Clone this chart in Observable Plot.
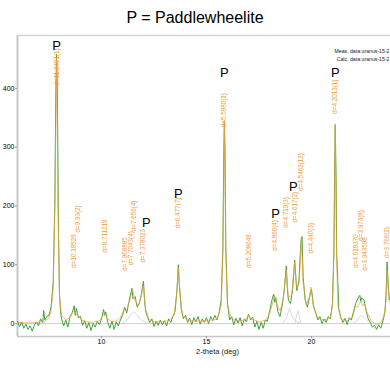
<!DOCTYPE html>
<html>
<head>
<meta charset="utf-8">
<script src="https://cdn.jsdelivr.net/npm/d3@7"></script>
<script src="https://cdn.jsdelivr.net/npm/@observablehq/plot@0.6"></script>
<style>
  html, body { margin: 0; padding: 0; background: #fff; }
  #title { height: 34px; line-height: 36px; text-align: center; font-family: "Liberation Sans", Arial, sans-serif; font-size: 16px; color: #000; }
  #chart svg { display: block; }
</style>
</head>
<body>
<div id="title">P = Paddlewheelite</div>
<div id="chart"></div>
<script>
// Measured profile [2θ, counts]
const measured = [
  [6.0,4],[6.1,-5],[6.2,3],[6.3,-8],[6.4,-1],[6.5,-10],[6.6,-4],[6.7,-13],[6.8,-3],[6.9,3],
  [7.0,-4],[7.1,8],[7.2,2],[7.25,22],[7.3,6],[7.4,12],[7.5,14],[7.6,28],[7.7,70],[7.78,210],
  [7.82,380],[7.86,458],[7.9,390],[7.95,160],[8.0,50],[8.05,20],[8.1,8],[8.2,-4],[8.3,6],[8.4,-6],
  [8.5,12],[8.6,18],[8.7,30],[8.75,14],[8.8,26],[8.9,10],[9.0,12],[9.1,-3],[9.2,5],[9.3,-8],
  [9.4,2],[9.5,-12],[9.6,0],[9.7,-6],[9.8,4],[9.9,-2],[10.0,8],[10.1,24],[10.15,14],[10.2,20],
  [10.3,2],[10.4,-8],[10.5,4],[10.6,-10],[10.7,3],[10.8,-4],[10.9,6],[11.0,14],[11.1,28],[11.2,18],
  [11.3,36],[11.4,52],[11.45,60],[11.5,42],[11.6,46],[11.7,28],[11.8,34],[11.9,50],[11.95,62],[12.0,72],
  [12.05,40],[12.1,22],[12.2,10],[12.3,2],[12.4,8],[12.5,-5],[12.6,4],[12.7,-3],[12.8,6],[12.9,-2],
  [13.0,5],[13.1,-4],[13.2,8],[13.3,2],[13.4,12],[13.5,20],[13.6,60],[13.66,100],[13.7,70],[13.8,24],
  [13.9,8],[14.0,14],[14.1,2],[14.2,9],[14.3,-2],[14.4,10],[14.5,3],[14.6,12],[14.7,-1],[14.8,8],
  [14.9,2],[15.0,10],[15.1,0],[15.2,12],[15.3,5],[15.4,14],[15.5,6],[15.6,18],[15.7,40],[15.78,130],
  [15.82,280],[15.85,345],[15.88,300],[15.92,130],[16.0,35],[16.05,20],[16.1,6],[16.2,12],[16.3,-2],[16.4,9],
  [16.5,1],[16.6,10],[16.7,-4],[16.8,8],[16.9,3],[17.0,16],[17.1,6],[17.2,11],[17.3,-6],[17.4,4],
  [17.5,-10],[17.6,2],[17.7,-8],[17.8,6],[17.9,4],[18.0,20],[18.1,38],[18.2,50],[18.25,36],[18.3,44],
  [18.4,20],[18.5,12],[18.6,30],[18.7,55],[18.8,98],[18.85,60],[18.9,40],[19.0,34],[19.1,58],[19.2,108],
  [19.25,80],[19.3,56],[19.4,72],[19.5,140],[19.55,148],[19.6,80],[19.7,40],[19.8,28],[19.9,44],[19.95,52],
  [20.0,58],[20.1,30],[20.2,18],[20.3,6],[20.4,12],[20.5,0],[20.6,8],[20.7,2],[20.8,12],[20.9,8],
  [21.0,35],[21.07,130],[21.1,260],[21.13,338],[21.17,250],[21.2,120],[21.3,25],[21.4,10],[21.5,2],[21.6,9],
  [21.7,-2],[21.8,10],[21.9,6],[22.0,20],[22.1,34],[22.2,42],[22.3,48],[22.35,38],[22.4,44],[22.5,40],
  [22.6,22],[22.7,8],[22.8,2],[22.9,-6],[23.0,-3],[23.1,-10],[23.2,-2],[23.3,-8],[23.4,4],[23.5,20],
  [23.55,50],[23.6,105],[23.65,70],[23.7,40],[23.76,45]
];

// Calculated profile [2θ, counts]
const calculated = [
  [6.0,2],[6.5,1],[7.0,2],[7.3,4],[7.5,10],[7.6,22],[7.7,60],[7.78,200],[7.86,452],[7.93,200],
  [8.0,45],[8.1,14],[8.3,6],[8.5,10],[8.62,18],[8.68,22],[8.78,16],[8.9,14],[9.05,6],[9.3,3],
  [9.6,2],[9.9,5],[10.05,12],[10.15,18],[10.25,10],[10.45,4],[10.7,4],[10.9,10],[11.05,22],[11.1,26],
  [11.2,24],[11.35,40],[11.48,58],[11.6,40],[11.75,30],[11.9,48],[11.99,64],[12.1,25],[12.25,8],[12.5,3],
  [12.9,3],[13.2,5],[13.45,14],[13.58,50],[13.66,95],[13.74,50],[13.85,14],[14.1,6],[14.6,4],[15.1,5],
  [15.5,8],[15.7,30],[15.78,120],[15.85,345],[15.92,120],[16.0,30],[16.2,8],[16.6,4],[16.9,8],[17.01,14],
  [17.12,8],[17.5,3],[17.8,6],[18.0,15],[18.15,35],[18.24,48],[18.35,32],[18.5,22],[18.65,40],[18.79,92],
  [18.9,45],[19.05,48],[19.2,105],[19.3,60],[19.42,70],[19.51,145],[19.6,70],[19.75,32],[19.9,45],[19.98,62],
  [20.08,30],[20.3,10],[20.6,6],[20.9,10],[21.0,30],[21.07,120],[21.13,340],[21.19,120],[21.26,30],[21.4,8],
  [21.7,5],[21.95,10],[22.1,30],[22.2,28],[22.35,38],[22.45,30],[22.53,34],[22.65,18],[22.85,4],[23.1,-2],
  [23.3,2],[23.45,12],[23.55,40],[23.6,90],[23.65,60],[23.76,30]
];

// Individual component profiles (gray)
const componentA = [[11.0,0],[11.2,6],[11.4,16],[11.55,20],[11.7,15],[11.85,7],[12.1,2],[12.4,0]];
const componentB = [[18.6,0],[18.8,8],[18.95,26],[19.1,10],[19.3,3],[19.5,0]];
const componentC = [[19.2,0],[19.35,22],[19.5,0]];
const componentD = [[22.0,0],[22.2,6],[22.35,14],[22.5,11],[22.7,3],[22.9,0]];

// d-spacing labels
const labelText = ["d=11.2401(1)","d=10.18528","d=9.93(2)","d=8.711218","d=7.968885","d=7.7043(4)","d=7.656(4)",
  "d=7.378023","d=6.477(7)","d=5.5880(1)","d=5.208648","d=4.860(4)","d=4.719(3)","d=4.617(2)",
  "d=4.5462(12)","d=4.440(3)","d=4.2013(1)","d=4.018370","d=3.974(8)","d=3.943598","d=3.766(2)"];
const labelTheta = [7.86,8.675,8.90,10.146,11.094,11.40,11.55,11.986,13.66,15.848,17.01,18.24,18.79,19.21,
  19.51,19.98,21.13,22.10,22.35,22.53,23.60];
const labelHeight = [405,95,155,121,90,99,157,104,162,334,95,124,163,172,226,119,357,95,141,90,112];

// Paddlewheelite markers
const pTheta = [7.86,15.85,21.13,13.66,12.14,18.29,19.14];
const pHeight = [473,427,427,221,172,187,233];

const legendMeas = "Meas. data:uranus-15-2";
const legendCalc = "Calc. data:uranus-15-2";
const xTicks = [10,15,20];
const yTicks = [0,100,200,300,400];

const labels = labelText.map((t,i)=>({t, x: labelTheta[i], y: labelHeight[i]}));
const pMarks = pTheta.map((x,i)=>({x, y: pHeight[i]}));
const comps = [
  ...componentA.map(d=>({x:d[0],y:d[1],k:"A"})),
  ...componentB.map(d=>({x:d[0],y:d[1],k:"B"})),
  ...componentC.map(d=>({x:d[0],y:d[1],k:"C"})),
  ...componentD.map(d=>({x:d[0],y:d[1],k:"D"}))
];

const font = "'Liberation Sans', Arial, sans-serif";
const chart = Plot.plot({
  width: 390, height: 356,
  marginTop: 1, marginBottom: 54, marginLeft: 17, marginRight: 0,
  style: {fontFamily: font, background: "#fff"},
  x: {domain: [6, 23.762]},
  y: {domain: [-22, 490]},
  marks: [
    Plot.ruleY([0], {stroke: "#cfcfcf", strokeWidth: 1}),
    Plot.ruleY([490], {stroke: "#d4d4d4", strokeWidth: 1.5}),
    Plot.ruleY([-22], {stroke: "#c8c8c8", strokeWidth: 1.5}),
    Plot.ruleX([6], {stroke: "#c8c8c8", strokeWidth: 2}),
    Plot.line(comps, {x: "x", y: "y", z: "k", stroke: "#d2d2d2", strokeWidth: 0.8, clip: true}),
    Plot.line(measured, {x: d=>d[0], y: d=>d[1], stroke: "#44a33d", strokeWidth: 1, clip: true}),
    Plot.line(calculated, {x: d=>d[0], y: d=>d[1], stroke: "#f5a03c", strokeWidth: 1, strokeOpacity: 0.7, clip: true}),
    Plot.text(labels, {x: "x", y: "y", text: "t", rotate: -90, textAnchor: "start", fill: "#f39a35", fontSize: 6.3}),
    Plot.text(pMarks, {x: "x", y: "y", text: ()=>"P", fill: "#000", fontSize: 13, lineAnchor: "middle"}),
    Plot.text([legendMeas], {frameAnchor: "top-right", text: d=>d, dx: -1, dy: 14, textAnchor: "end", fontSize: 5.2, fill: "#222"}),
    Plot.text([legendCalc], {frameAnchor: "top-right", text: d=>d, dx: -1, dy: 22, textAnchor: "end", fontSize: 5.2, fill: "#222"}),
    Plot.axisX({ticks: xTicks, tickSize: 2, tickPadding: 1, fontSize: 7, label: null, stroke: "#999"}),
    Plot.axisY({ticks: yTicks, tickSize: 2, tickPadding: 1, fontSize: 7, label: null, stroke: "#999"}),
    Plot.text(["2-theta (deg)"], {frameAnchor: "bottom", text: d=>d, dx: 13.5, dy: 17, fontSize: 7.5, fill: "#222"})
  ]
});
document.getElementById("chart").appendChild(chart);
</script>
</body>
</html>
